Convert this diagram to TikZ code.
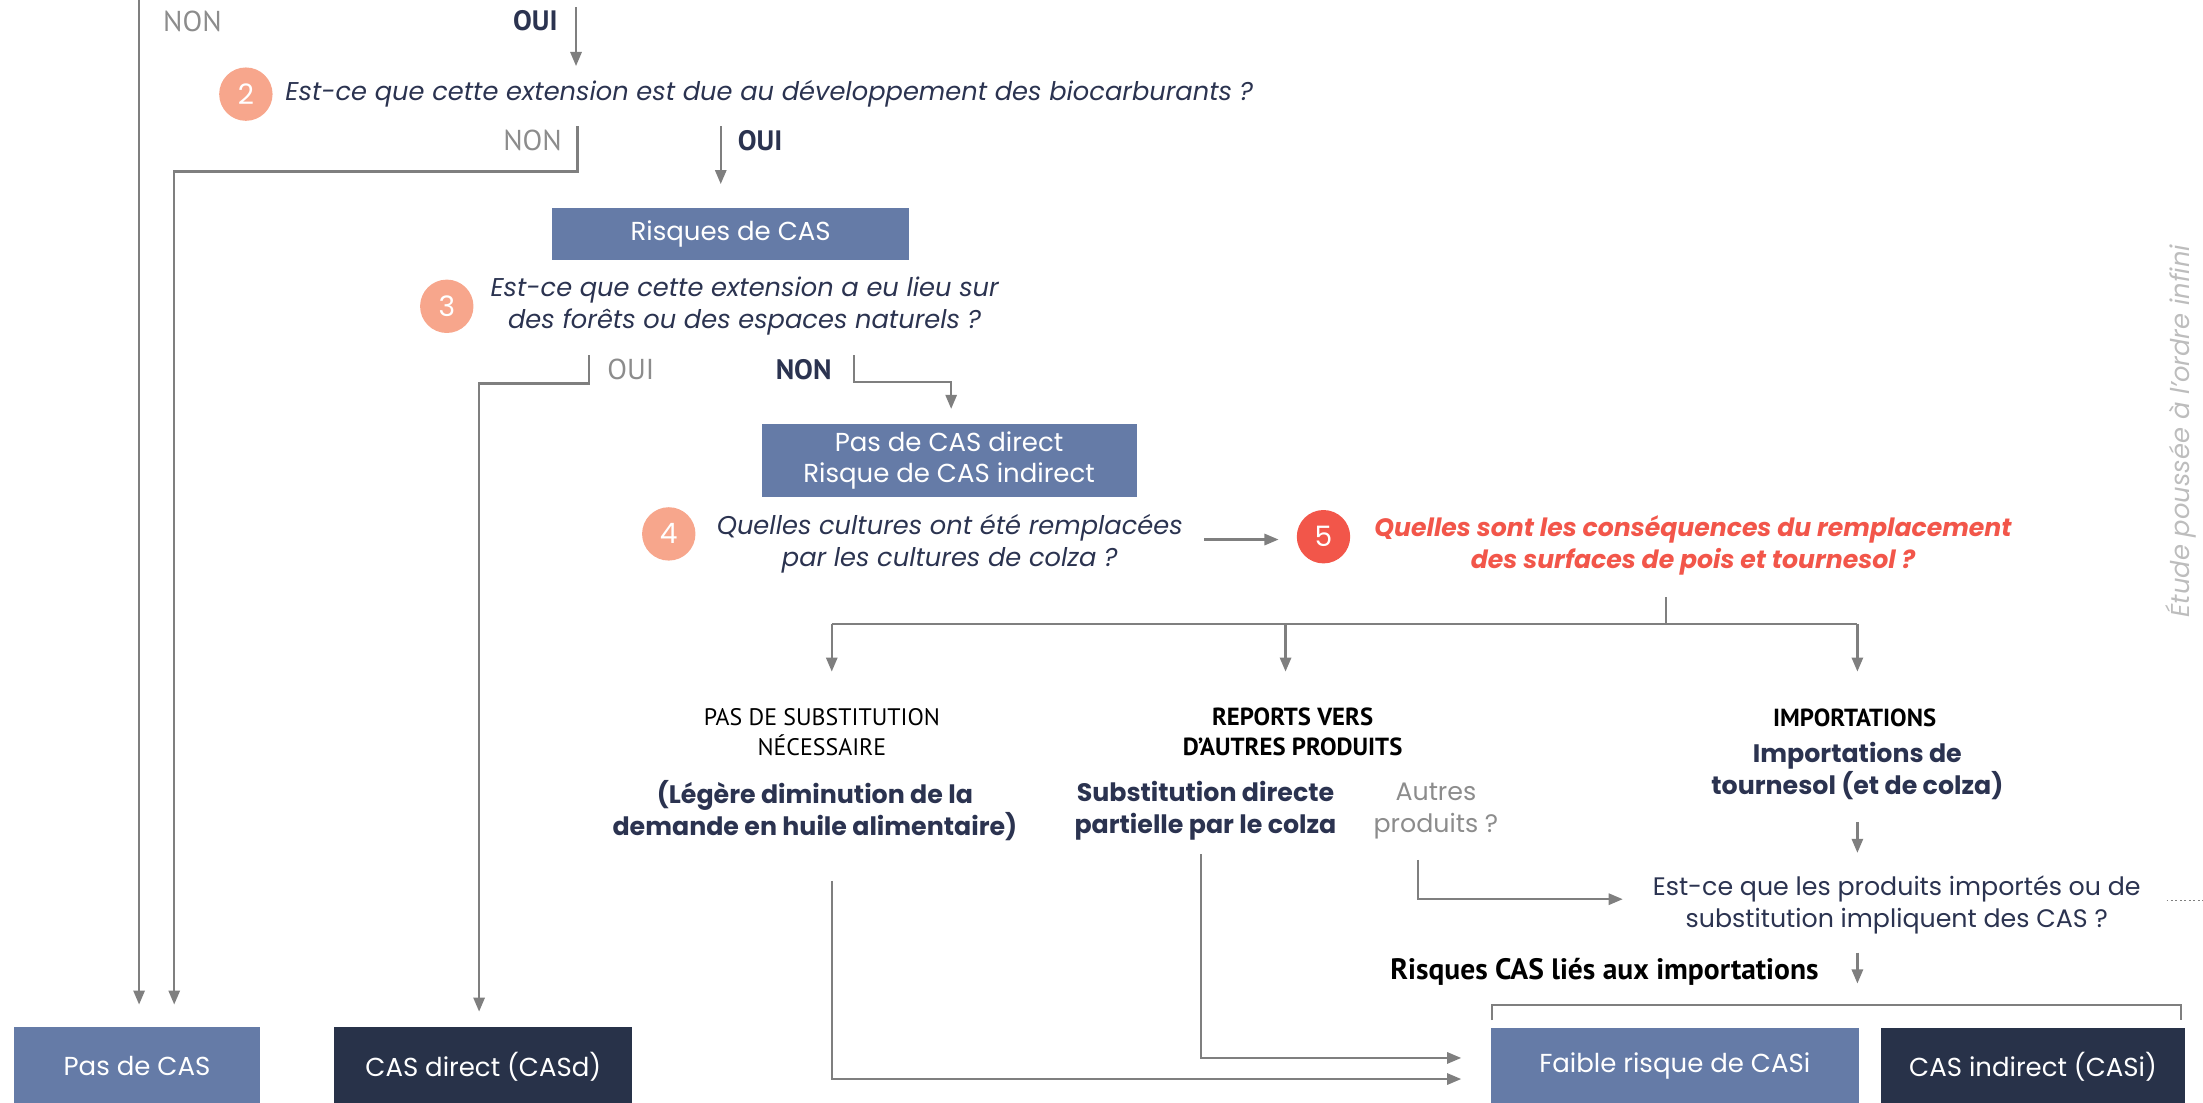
\documentclass[tikz,border=0pt]{standalone}
\usepackage{fontspec}
\setmainfont{Poppins}
\newfontfamily\condfont{PT Sans}
\usetikzlibrary{arrows.meta}
\definecolor{linegray}{HTML}{7F7F7F}
\definecolor{txtgray}{HTML}{8C8C8C}
\definecolor{markgray}{HTML}{BDBDBD}
\definecolor{navy}{HTML}{2B3350}
\definecolor{boxblue}{HTML}{657BA7}
\definecolor{boxdark}{HTML}{283249}
\definecolor{salmon}{HTML}{F7A68C}
\definecolor{hotred}{HTML}{F2564A}
\tikzset{
  conn/.style={draw=linegray, line width=1.6pt},
  arr/.style={conn, -{Triangle[width=8pt,length=10pt]}},
  lightbox/.style={fill=boxblue, text=white, inner sep=0pt, font=\fontsize{18.5}{22}\selectfont, align=center},
  darkbox/.style={fill=boxdark, text=white, inner sep=0pt, font=\fontsize{18.5}{22}\selectfont, align=center},
  numdot/.style={circle, fill=salmon, text=white, minimum size=38pt, inner sep=0pt, font=\fontsize{20}{20}\selectfont},
  question/.style={text=navy, inner sep=0pt, align=center, font=\fontsize{18.3}{23}\selectfont\itshape},
  nolabel/.style={text=txtgray, inner sep=0pt, font=\condfont\fontsize{20.5}{20.5}\selectfont},
  yeslabel/.style={text=navy, inner sep=0pt, font=\condfont\bfseries\fontsize{20}{20}\selectfont},
  heading/.style={text=black, inner sep=0pt, align=center, font=\condfont\fontsize{17}{21}\selectfont},
  boldhead/.style={text=black, inner sep=0pt, align=center, font=\condfont\bfseries\fontsize{17.6}{21}\selectfont},
  detail/.style={text=navy, inner sep=0pt, align=center, font=\bfseries\fontsize{18}{23}\selectfont},
  plain/.style={inner sep=0pt, align=center, font=\fontsize{18}{23}\selectfont},
}
\begin{document}
\begin{tikzpicture}[x=1pt,y=-1pt]
\useasboundingbox (0,0) rectangle (1568,785);

% ---- outcome boxes ----
\node[lightbox, minimum width=175pt, minimum height=56pt] (pasdecas) at (97.5,759) {Pas de CAS};
\node[darkbox, minimum width=212pt, minimum height=56pt] (casd) at (344,759) {CAS direct (CASd)};
\node[lightbox, minimum width=262pt, minimum height=54pt] (faible) at (1192,759) {Faible risque de CASi};
\node[darkbox, minimum width=216pt, minimum height=54pt] (casi) at (1447,759) {CAS indirect (CASi)};
\node[lightbox, minimum width=254pt, minimum height=37pt] (risques) at (520,166.5) {Risques de CAS};
\node[lightbox, minimum width=267pt, minimum height=52pt] (pasdirect) at (675.5,328) {Pas de CAS direct\\Risque de CAS indirect};

% ---- questions ----
\node[numdot] (n2) at (175,67) {2};
\node[question, anchor=west] (q2) at (203,67) {Est-ce que cette extension est due au développement des biocarburants ?};
\node[numdot] (n3) at (318,218) {3};
\node[question] (q3) at (530,218) {Est-ce que cette extension a eu lieu sur\\des forêts ou des espaces naturels ?};
\node[numdot] (n4) at (476,380) {4};
\node[question] (q4) at (676,387) {Quelles cultures ont été remplacées\\par les cultures de colza ?};
\node[numdot, fill=hotred] (n5) at (942,382) {5};
\node[question, text=hotred, font=\fontsize{17.9}{23}\selectfont\bfseries\itshape] (q5) at (1205,388) {Quelles sont les conséquences du remplacement\\des surfaces de pois et tournesol ?};

% ---- answer labels ----
\node[nolabel] (non1) at (137,15) {NON};
\node[yeslabel] (oui1) at (381,15) {OUI};
\node[nolabel] (non2) at (379,100) {NON};
\node[yeslabel] (oui2) at (541,100) {OUI};
\node[nolabel] (oui3) at (449,263) {OUI};
\node[yeslabel] (non3) at (572,263) {NON};

% ---- consequences ----
\node[heading] (pas) at (585,521) {PAS DE SUBSTITUTION\\NÉCESSAIRE};
\node[boldhead] (reports) at (920,521) {REPORTS VERS\\D’AUTRES PRODUITS};
\node[boldhead] (imp) at (1320,511) {IMPORTATIONS};
\node[detail] (legere) at (580,577) {(Légère diminution de la\\demande en huile alimentaire)};
\node[detail] (subst) at (858,577) {Substitution directe\\partielle par le colza};
\node[plain, text=txtgray] (autres) at (1022,577) {Autres\\produits ?};
\node[detail] (importde) at (1322,549) {Importations de\\tournesol (et de colza)};
\node[plain, text=navy] (qimp) at (1350,644) {Est-ce que les produits importés ou de\\substitution impliquent des CAS ?};
\node[boldhead, font=\condfont\bfseries\fontsize{21}{21}\selectfont] (risqimp) at (1142,692) {Risques CAS liés aux importations};

% ---- side note ----
\node[rotate=90, text=markgray, inner sep=0pt, font=\fontsize{18.4}{18.4}\selectfont\itshape] (note) at (1552,307) {Étude poussée à l’ordre infini};

% ---- connector end points ----
\coordinate (top1) at (99,0);
\coordinate (yes1) at (410,5);
\coordinate (no2) at (411,90);
\coordinate (yes2) at (513,90);
\coordinate (yes3) at (419,253);
\coordinate (no3) at (608,253);
\coordinate (q4out) at (857,384);
\coordinate (q5in) at (910,384);
\coordinate (fork) at (1186,425);
\coordinate (branchL) at (592,444);
\coordinate (branchM) at (915,444);
\coordinate (branchR) at (1322,444);
\coordinate (impdown) at (1322,585);
\coordinate (otherdown) at (1009,612);
\coordinate (qimpdown) at (1322,678);
\coordinate (legdown) at (592,627);
\coordinate (subdown) at (855,608);
\coordinate (dotA) at (1542,641);
\coordinate (dotB) at (1568,641);

% ---- connectors ----
\draw[arr] (top1) -- (99,715);
\draw[arr] (yes1) -- (410,47);
\draw[arr] (no2) -- (411,122) -- (124,122) -- (124,715);
\draw[arr] (yes2) -- (513,131);
\draw[arr] (yes3) -- (419,273) -- (341,273) -- (341,720);
\draw[arr] (no3) -- (608,272) -- (677,272) -- (677,291);
\draw[arr] (q4out) -- (q5in);
\draw[conn] (fork) -- (1186,444);
\draw[conn] (branchL) -- (branchR);
\draw[arr] (branchL) -- (592,478);
\draw[arr] (branchM) -- (915,478);
\draw[arr] (branchR) -- (1322,478);
\draw[arr] (impdown) -- (1322,607);
\draw[arr] (otherdown) -- (1009,640) -- (1155,640);
\draw[linegray, line width=1.2pt, dotted] (dotA) -- (dotB);
\draw[arr] (qimpdown) -- (1322,700);
\draw[linegray, line width=1.4pt] (1062,726) -- (1062,715) -- (1552,715) -- (1552,726);
\draw[arr] (legdown) -- (592,768) -- (1040,768);
\draw[arr] (subdown) -- (855,753) -- (1040,753);
\end{tikzpicture}
\end{document}
